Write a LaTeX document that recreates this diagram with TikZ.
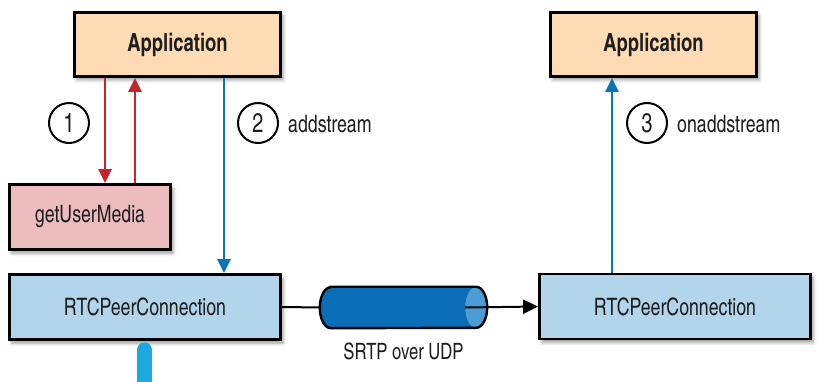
\documentclass[tikz,border=0pt]{standalone}
\usepackage{fontspec}
\setmainfont{TeX Gyre Heros Cn}[FakeStretch=0.9]
\usetikzlibrary{arrows.meta,shadows.blur,calc}

\definecolor{appfill}{HTML}{FDDCB5}
\definecolor{gumfill}{HTML}{EDBCBF}
\definecolor{rtcfill}{HTML}{B2D5EB}
\definecolor{apired}{HTML}{C5252D}
\definecolor{apiblue}{HTML}{0B75BC}
\definecolor{pipebody}{HTML}{0A6DB7}
\definecolor{pipeface}{HTML}{4C9DD3}
\definecolor{feedcyan}{HTML}{1DA8E0}
\definecolor{ink}{HTML}{1E1E1E}

\tikzset{
  box/.style={draw=black, line width=2.8pt, inner sep=0pt, text=ink,
    blur shadow={shadow xshift=2.5pt, shadow yshift=-3.5pt,
                 shadow blur radius=3.5pt, shadow opacity=40},
    font=\fontsize{24}{26}\selectfont},
  appbox/.style={box, fill=appfill, minimum width=206pt, minimum height=64pt,
    font=\fontsize{25}{26}\selectfont\bfseries},
  gumbox/.style={box, fill=gumfill, minimum width=161pt, minimum height=65pt},
  rtcbox/.style={box, fill=rtcfill, minimum width=271pt, minimum height=65pt},
  tip/.style={-{Triangle[length=14pt,width=13pt]}},
  redarrow/.style={tip, draw=apired, fill=apired, line width=2.4pt},
  bluearrow/.style={tip, draw=apiblue, fill=apiblue, line width=2.4pt},
  wire/.style={draw=black, line width=2pt},
  stepnum/.style={circle, draw=black, line width=2pt, minimum size=40pt,
    inner sep=0pt, text=ink, font=\fontsize{27}{28}\selectfont},
  callname/.style={anchor=west, inner sep=0pt, text=ink,
    font=\fontsize{24}{26}\selectfont},
}

\begin{document}
\begin{tikzpicture}[x=1pt,y=1pt]
\useasboundingbox (0,0) rectangle (820,-382);

% sender side
\node[appbox] (app1) at (177.5,-44.5) {Application};
\node[gumbox] (gum) at (90,-217) {getUserMedia};
\node[rtcbox] (rtc1) at (145,-307) {RTCPeerConnection};

% receiver side
\node[appbox] (app2) at (653.5,-44.5) {Application};
\node[rtcbox] (rtc2) at (675,-306.5) {RTCPeerConnection};

% media request and response
\draw[redarrow] (app1.south -| 105,0) -- (gum.north -| 105,0);
\draw[redarrow] (gum.north -| 135,0) -- (app1.south -| 135,0);
\node[stepnum] (n1) at (69,-123) {1};

% stream handed to the peer connection
\draw[bluearrow] (app1.south -| 224,0) -- (rtc1.north -| 224,0);
\node[stepnum] (n2) at (258,-123) {2};
\node[callname] (l2) at (288,-124) {addstream};

% stream delivered to the remote application
\draw[bluearrow] (rtc2.north -| 612,0) -- (app2.south -| 612,0);
\node[stepnum] (n3) at (647,-123) {3};
\node[callname] (l3) at (677,-124) {onaddstream};

% media feed leaving the local peer connection
\coordinate (feedend) at (144.5,-400);
\draw[feedcyan, line width=15pt, line cap=round, shorten <=8.9pt]
  (rtc1.south -| feedend) -- (feedend);

% transport pipe
\node[minimum width=167pt, minimum height=41pt, inner sep=0pt] (pipe) at (403.5,-307.5) {};
\draw[wire] (rtc1.east) -- (pipe.west);
\fill[pipebody] ([xshift=11pt]pipe.north west) -- ([xshift=-11pt]pipe.north east)
  arc[start angle=90, end angle=-90, x radius=11pt, y radius=20.5pt]
  -- ([xshift=11pt]pipe.south west)
  arc[start angle=270, end angle=90, x radius=11pt, y radius=20.5pt] -- cycle;
\fill[pipeface] ([xshift=-11pt]pipe.east) ellipse[x radius=11pt, y radius=20.5pt];
\draw[black, line width=2.4pt] ([xshift=11pt]pipe.north west) -- ([xshift=-11pt]pipe.north east)
  arc[start angle=90, end angle=-90, x radius=11pt, y radius=20.5pt]
  -- ([xshift=11pt]pipe.south west)
  arc[start angle=270, end angle=90, x radius=11pt, y radius=20.5pt] -- cycle;
\draw[wire, -{Triangle[length=15pt,width=14pt]}] ([xshift=-22pt]pipe.east) -- (rtc2.west);
\node[text=ink, font=\fontsize{22.5}{24}\selectfont] (srtp) at (403.5,-351) {SRTP over UDP};
\end{tikzpicture}
\end{document}
